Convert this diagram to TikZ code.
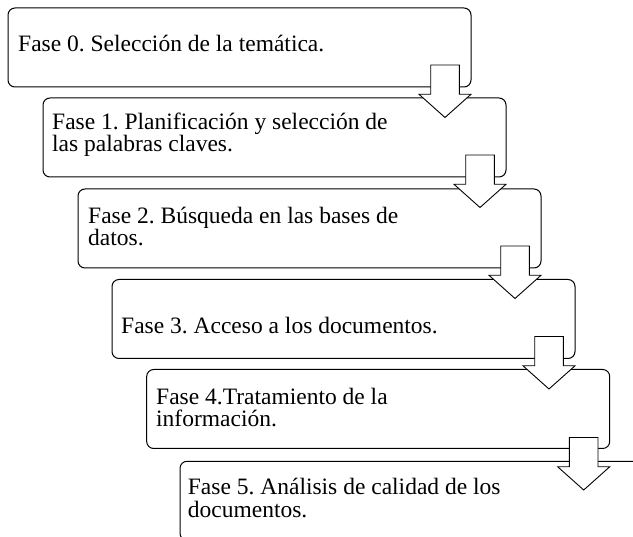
\documentclass[tikz,border=0pt]{standalone}
\usepackage{fontspec}
\setmainfont{Liberation Serif}
\usetikzlibrary{calc}
\frenchspacing
\begin{document}
\begin{tikzpicture}[x=1pt,y=-1pt,
  box/.style={draw=black, line width=1pt, rounded corners=7pt, minimum width=463pt, minimum height=79pt, anchor=north west, inner sep=0pt, outer sep=0pt},
  lbl/.style={anchor=base west, inner sep=0pt, align=left, font=\frenchspacing\fontsize{23.5}{22.5}\selectfont},
  blockarrow/.pic={\draw[line width=0.9pt, draw=black, fill=white, line join=miter]
     (-14.3,-22) -- (14.3,-22) -- (14.3,7.3) -- (26,7.3) -- (0,30.5) -- (-26,7.3) -- (-14.3,7.3) -- cycle;}
]
\useasboundingbox (0,0) rectangle (633,537);
\clip (0,0) rectangle (633,537);
\fill[white] (0,0) rectangle (633,537);
% boxes
\node[box] (b0) at (8,8) {};
\node[box] (b1) at (43,98) {};
\node[box] (b2) at (78,189) {};
\node[box] (b3) at (112,279.5) {};
\node[box] (b4) at (146.7,369.5) {};
\node[box] (b5) at (180,461.3) {};
% arrows between boxes
\pic at ([xshift=-26pt]b0.south east) {blockarrow};
\pic at ([xshift=-26pt]b1.south east) {blockarrow};
\pic at ([xshift=-26pt]b2.south east) {blockarrow};
\pic at ([xshift=-26pt]b3.south east) {blockarrow};
\pic at ([xshift=-26pt,yshift=-11pt]b4.south east) {blockarrow};
% texts (base anchor = baseline of the last line)
\node[lbl] (t0) at ($(b0.north west)+(10,44)$) {Fase 0. Selección de la temática.};
\node[lbl] (t1) at ($(b1.north west)+(9,54)$) {Fase 1. Planificación y selección de\\las palabras claves.};
\node[lbl] (t2) at ($(b2.north west)+(10,57)$) {Fase 2. Búsqueda en las bases de\\datos.};
\node[lbl] (t3) at ($(b3.north west)+(9,53.8)$) {Fase 3. Acceso a los documentos.};
\node[lbl] (t4) at ($(b4.north west)+(9.3,57.5)$) {Fase 4.Tratamiento de la\\información.};
\node[lbl] (t5) at ($(b5.north west)+(7.7,55.8)$) {Fase 5. Análisis de calidad de los\\documentos.};
\end{tikzpicture}
\end{document}
